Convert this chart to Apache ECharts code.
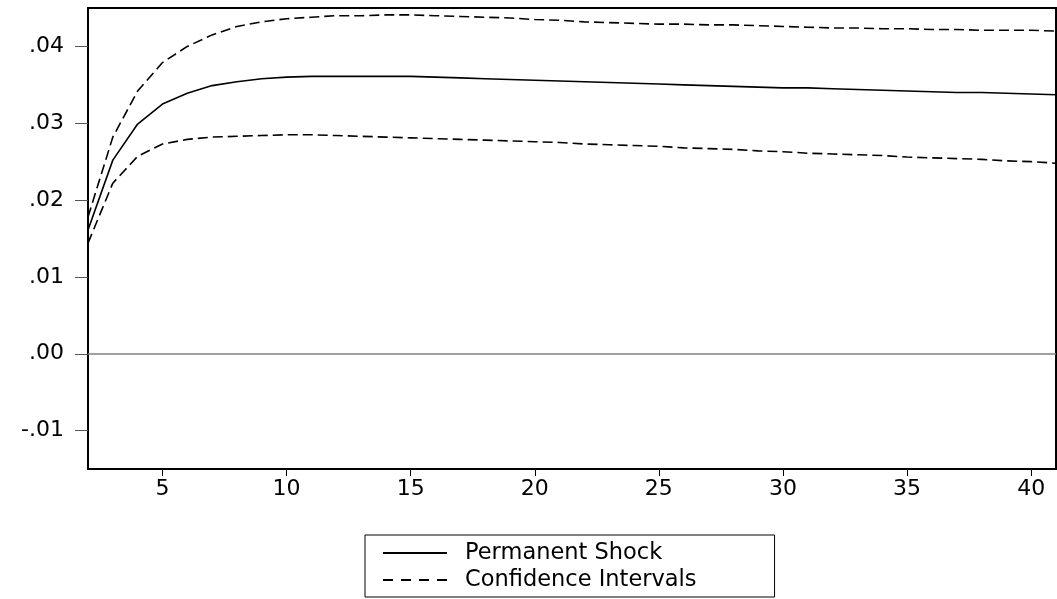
<!DOCTYPE html>
<html>
<head>
<meta charset="UTF-8" />
<title>Impulse response</title>
<script src="https://cdn.jsdelivr.net/npm/echarts@6/dist/echarts.min.js"></script>
<style>
html, body { margin: 0; padding: 0; background: #fff; }
#main { width: 1057px; height: 599px; }
</style>
</head>
<body>
<div id="main"></div>
<script>
// periods on the x axis
var periods = [2,3,4,5,6,7,8,9,10,11,12,13,14,15,16,17,18,19,20,21,
               22,23,24,25,26,27,28,29,30,31,32,33,34,35,36,37,38,39,40,41];
// permanent shock response
var shock = [0.0161,0.0252,0.0299,0.0325,0.0339,0.0349,0.0354,0.0358,0.0360,0.0361,
             0.0361,0.0361,0.0361,0.0361,0.0360,0.0359,0.0358,0.0357,0.0356,0.0355,
             0.0354,0.0353,0.0352,0.0351,0.0350,0.0349,0.0348,0.0347,0.0346,0.0346,
             0.0345,0.0344,0.0343,0.0342,0.0341,0.0340,0.0340,0.0339,0.0338,0.0337];
// upper band
var upper = [0.0178,0.0282,0.0342,0.0379,0.0400,0.0415,0.0426,0.0432,0.0436,0.0438,
             0.0440,0.0440,0.0441,0.0441,0.0440,0.0439,0.0438,0.0437,0.0435,0.0434,
             0.0432,0.0431,0.0430,0.0429,0.0429,0.0428,0.0428,0.0427,0.0426,0.0425,
             0.0424,0.0424,0.0423,0.0423,0.0422,0.0422,0.0421,0.0421,0.0421,0.0420];
// lower band
var lower = [0.0144,0.0222,0.0257,0.0273,0.0279,0.0282,0.0283,0.0284,0.0285,0.0285,
             0.0284,0.0283,0.0282,0.0281,0.0280,0.0279,0.0278,0.0277,0.0276,0.0275,
             0.0273,0.0272,0.0271,0.0270,0.0268,0.0267,0.0266,0.0264,0.0263,0.0261,
             0.0260,0.0259,0.0258,0.0256,0.0255,0.0254,0.0253,0.0251,0.0250,0.0248];
var xTicks = [5,10,15,20,25,30,35,40];
var yTicks = [-0.01,0,0.01,0.02,0.03,0.04];
var yTickLabels = ['-.01','.00','.01','.02','.03','.04'];

function pairs(vals){
    var out = [];
    for (var i = 0; i < periods.length; i++) out.push([periods[i], vals[i]]);
    return out;
}

var font = 'DejaVu Sans';
var dash = [10,5];
// legend glyphs: plain bar and four dashes
var solidIcon = 'path://M0,0h64v2h-64z';
var dashIcon = 'path://M0,0h10v2h-10z M18,0h10v2h-10z M36,0h10v2h-10z M54,0h10v2h-10z';

var chart = echarts.init(document.getElementById('main'), null, {renderer: 'canvas'});
chart.setOption({
    animation: false,
    backgroundColor: '#fff',
    grid: {
        left: 88, right: 1, top: 8, bottom: 130,
        show: true, borderColor: '#000', borderWidth: 2
    },
    legend: {
        left: 365, top: 535,
        orient: 'vertical',
        data: [
            {name: 'Permanent Shock', icon: solidIcon},
            {name: 'Confidence Intervals', icon: dashIcon}
        ],
        itemWidth: 64, itemHeight: 2, itemGap: 3,
        padding: [6, 78, 5, 18],
        borderColor: '#000', borderWidth: 1, borderRadius: 0,
        selectedMode: false,
        itemStyle: {color: '#000', borderWidth: 0},
        lineStyle: {width: 0},
        textStyle: {fontFamily: font, fontSize: 22.5, color: '#000', lineHeight: 24, padding: [0,0,0,13]}
    },
    xAxis: {
        type: 'value', min: 2, max: 41,
        splitLine: {show: false},
        axisLine: {show: true, onZero: false, lineStyle: {color: '#000', width: 2}},
        axisTick: {show: true, customValues: xTicks, length: 7, lineStyle: {color: '#000'}},
        axisLabel: {customValues: xTicks, margin: 9, fontFamily: font, fontSize: 22, color: '#000'}
    },
    yAxis: {
        type: 'value', min: -0.015, max: 0.045,
        splitLine: {show: false},
        axisLine: {show: true, onZero: false, lineStyle: {color: '#000', width: 2}},
        axisTick: {show: true, customValues: yTicks, length: 13, lineStyle: {color: '#555'}},
        axisLabel: {
            customValues: yTicks, margin: 24, fontFamily: font, fontSize: 22, color: '#000',
            formatter: function(v){
                for (var i = 0; i < yTicks.length; i++) {
                    if (Math.abs(yTicks[i] - v) < 1e-9) return yTickLabels[i];
                }
                return '';
            }
        }
    },
    series: [
        {
            name: 'Permanent Shock', type: 'line', data: pairs(shock),
            symbol: 'none', lineStyle: {color: '#000', width: 1.6},
            itemStyle: {color: '#000'},
            markLine: {
                silent: true, symbol: 'none', label: {show: false},
                lineStyle: {color: '#808080', width: 1.5, type: 'solid'},
                data: [{yAxis: 0}]
            }
        },
        {
            name: 'Confidence Intervals', type: 'line', data: pairs(upper),
            symbol: 'none', lineStyle: {color: '#000', width: 1.6, type: dash},
            itemStyle: {color: '#000'}
        },
        {
            name: 'Confidence Intervals', type: 'line', data: pairs(lower),
            symbol: 'none', lineStyle: {color: '#000', width: 1.6, type: dash},
            itemStyle: {color: '#000'}
        }
    ]
});
</script>
</body>
</html>
